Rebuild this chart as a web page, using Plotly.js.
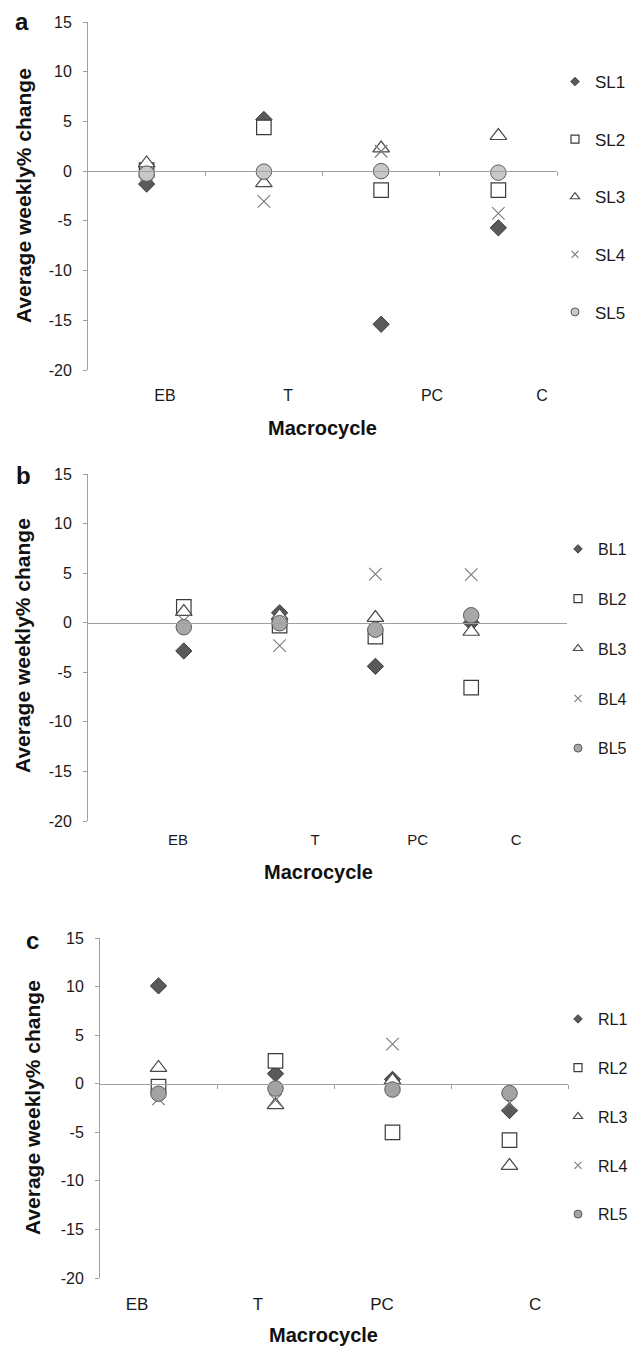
<!DOCTYPE html>
<html><head><meta charset="utf-8">
<script src="https://cdn.plot.ly/plotly-3.0.1.min.js"></script>
<style>html,body{margin:0;padding:0;background:#fff}#chart{width:633px;height:1347px}</style>
</head><body><div id="chart"></div>
<script>
// ---------- DATA ----------
const categories = ['EB', 'T', 'PC', 'C'];
const yTicks = [-20, -15, -10, -5, 0, 5, 10, 15];
const yTickText = ['-20', '-15', '-10', '-5', '0', '5', '10', '15'];

// Panel a
const namesA = ['SL1', 'SL2', 'SL3', 'SL4', 'SL5'];
const SL1 = [-1.3, 5.2, -15.4, -5.7];
const SL2 = [0.1, 4.4, -1.9, -1.9];
const SL3 = [0.8, -1.2, 2.3, 3.55];
const SL4 = [-0.3, -3.05, 2.0, -4.25];
const SL5 = [-0.25, -0.05, 0.0, -0.15];

// Panel b
const namesB = ['BL1', 'BL2', 'BL3', 'BL4', 'BL5'];
const BL1 = [-2.85, 1.0, -4.4, 0.0];
const BL2 = [1.6, -0.3, -1.4, -6.55];
const BL3 = [1.1, 0.7, 0.5, -0.9];
const BL4 = [0.2, -2.3, 4.9, 4.85];
const BL5 = [-0.45, -0.05, -0.7, 0.75];

// Panel c
const namesC = ['RL1', 'RL2', 'RL3', 'RL4', 'RL5'];
const RL1 = [10.07, 1.03, 0.45, -2.76];
const RL2 = [-0.3, 2.35, -5.0, -5.8];
const RL3 = [1.65, -2.2, 0.35, -8.45];
const RL4 = [-1.55, -1.7, 4.07, -2.0];
const RL5 = [-1.03, -0.5, -0.6, -0.97];

const yTitle = 'Average weekly% change';
const xTitle = 'Macrocycle';

// ---------- LAYOUT / STYLE ----------
const W = 633, H = 1347;
const px = v => v / W;
const py = v => 1 - v / H;
const FONT = "'Liberation Sans', Arial, sans-serif";

const panels = [
  {series: [SL1, SL2, SL3, SL4, SL5], names: namesA, letter: 'a',
   left: 88, right: 557, top: 22, bottom: 370, xMax: 4, xOffset: 0.5,
   labelPos: [0.657, 1.706, 2.934, 3.872], labelFont: 16, labelStandoff: 14,
   zeroTicks: [1, 2, 3, 4], circleFill: '#c8c8c8',
   letterPos: [22, 22], yTitlePos: [23, 196], xTitlePos: [322, 428],
   legendLeft: 555, legendTop: 64, gap: 32.5, legendFont: 17},
  {series: [BL1, BL2, BL3, BL4, BL5], names: namesB, letter: 'b',
   left: 88, right: 567, top: 474, bottom: 821, xMax: 5, xOffset: 1,
   labelPos: [0.94, 2.37, 3.44, 4.47], labelFont: 15, labelStandoff: 8,
   zeroTicks: [], circleFill: '#a8a8a8',
   letterPos: [23, 475], yTitlePos: [22, 646], xTitlePos: [318, 872],
   legendLeft: 558, legendTop: 532, gap: 26, legendFont: 16},
  {series: [RL1, RL2, RL3, RL4, RL5], names: namesC, letter: 'c',
   left: 100, right: 568, top: 938, bottom: 1278, xMax: 4, xOffset: 0.5,
   labelPos: [0.316, 1.35, 2.41, 3.72], labelFont: 17, labelStandoff: 14,
   zeroTicks: [1, 2, 3, 4], circleFill: '#a3a3a3',
   letterPos: [32, 940], yTitlePos: [32, 1108], xTitlePos: [323, 1335],
   legendLeft: 558, legendTop: 1002, gap: 25, legendFont: 16}
];

function markerStyle(i, fill, small) {
  const s = [
    {symbol: 'diamond', size: small ? 6.5 : 12.5, color: '#5a5a5a', line: {color: '#3a3a3a', width: 1}},
    {symbol: 'square', size: small ? 8 : 14.5, color: '#ffffff', line: {color: '#3a3a3a', width: 1.2}},
    {symbol: 'triangle-up', size: small ? 8 : 14.5, color: '#ffffff', line: {color: '#4a4a4a', width: 1.2}},
    {symbol: 'x-thin', size: small ? 7 : 12.5, color: '#7a7a7a', line: {color: '#7a7a7a', width: 1.1}},
    {symbol: 'circle', size: small ? 8 : 15.5, color: fill, line: {color: '#5a5a5a', width: 1}}
  ];
  return s[i];
}

const data = [];
const layout = {
  width: W, height: H,
  margin: {l: 0, r: 0, t: 0, b: 0, autoexpand: false},
  paper_bgcolor: '#ffffff', plot_bgcolor: 'rgba(0,0,0,0)',
  font: {family: FONT, color: '#1a1a1a'},
  showlegend: true,
  annotations: []
};

panels.forEach((p, k) => {
  const n = k * 2 + 1;
  const xMain = n === 1 ? 'x' : 'x' + n;
  const xLab = 'x' + (n + 1);
  const yId = k === 0 ? 'y' : 'y' + (k + 1);
  const legId = k === 0 ? 'legend' : 'legend' + (k + 1);
  const xDom = [px(p.left), px(p.right)];
  const yDom = [py(p.bottom), py(p.top)];
  const yMin = -20, yMax = 15;
  const zeroPos = yDom[0] + (0 - yMin) / (yMax - yMin) * (yDom[1] - yDom[0]);
  const xs = categories.map((c, i) => i + p.xOffset);

  p.series.forEach((vals, i) => {
    data.push({
      type: 'scatter', mode: 'markers', name: p.names[i],
      x: xs, y: vals, text: categories,
      xaxis: xMain, yaxis: yId, showlegend: false,
      marker: markerStyle(i, p.circleFill, false),
      hovertemplate: '%{text}: %{y}<extra>' + p.names[i] + '</extra>'
    });
  });
  // legend entries (small symbols, as in the original)
  p.series.forEach((vals, i) => {
    data.push({
      type: 'scatter', mode: 'markers', name: p.names[i],
      x: [null], y: [null], xaxis: xLab, yaxis: yId,
      legend: legId, legendgroup: legId + i, showlegend: true,
      marker: markerStyle(i, p.circleFill, true)
    });
  });

  const ax = xMain === 'x' ? 'xaxis' : 'xaxis' + n;
  layout[ax] = {
    domain: xDom, range: [0, p.xMax], anchor: 'free', position: zeroPos,
    showline: true, linecolor: '#a0a0a0', linewidth: 1,
    tickmode: 'array', tickvals: p.zeroTicks, ticks: p.zeroTicks.length ? 'outside' : '',
    ticklen: 4, tickcolor: '#a0a0a0', showticklabels: false,
    showgrid: false, zeroline: false, fixedrange: true
  };
  layout['xaxis' + (n + 1)] = {
    overlaying: xMain, anchor: yId, side: 'bottom', range: [0, p.xMax],
    showline: false, ticks: '', showgrid: false, zeroline: false,
    tickmode: 'array', tickvals: p.labelPos, ticktext: categories,
    tickfont: {family: FONT, size: p.labelFont, color: '#1a1a1a'},
    ticklabelstandoff: p.labelStandoff, fixedrange: true
  };
  layout[k === 0 ? 'yaxis' : 'yaxis' + (k + 1)] = {
    domain: yDom, anchor: xMain, range: [yMin, yMax],
    tickmode: 'array', tickvals: yTicks, ticktext: yTickText,
    showline: true, linecolor: '#a0a0a0', linewidth: 1,
    ticks: 'outside', ticklen: 4, tickcolor: '#a0a0a0',
    tickfont: {family: FONT, size: 16, color: '#1a1a1a'},
    ticklabelstandoff: 8,
    showgrid: false, zeroline: false, fixedrange: true
  };
  layout[legId] = {
    x: px(p.legendLeft), y: py(p.legendTop), xanchor: 'left', yanchor: 'top',
    orientation: 'v', bgcolor: 'rgba(0,0,0,0)', borderwidth: 0,
    font: {family: FONT, size: p.legendFont, color: '#1a1a1a'},
    tracegroupgap: p.gap, itemclick: false, itemdoubleclick: false
  };
  layout.annotations.push(
    {xref: 'paper', yref: 'paper', x: px(p.letterPos[0]), y: py(p.letterPos[1]),
     text: '<b>' + p.letter + '</b>', showarrow: false, xanchor: 'center', yanchor: 'middle',
     font: {family: FONT, size: 24, color: '#111'}},
    {xref: 'paper', yref: 'paper', x: px(p.yTitlePos[0]), y: py(p.yTitlePos[1]),
     text: '<b>' + yTitle + '</b>', showarrow: false, textangle: -90,
     xanchor: 'center', yanchor: 'middle',
     font: {family: FONT, size: 21, color: '#111'}},
    {xref: 'paper', yref: 'paper', x: px(p.xTitlePos[0]), y: py(p.xTitlePos[1]),
     text: '<b>' + xTitle + '</b>', showarrow: false,
     xanchor: 'center', yanchor: 'middle',
     font: {family: FONT, size: 20, color: '#111'}}
  );
});

Plotly.newPlot('chart', data, layout, {displayModeBar: false});
</script>
</body></html>
